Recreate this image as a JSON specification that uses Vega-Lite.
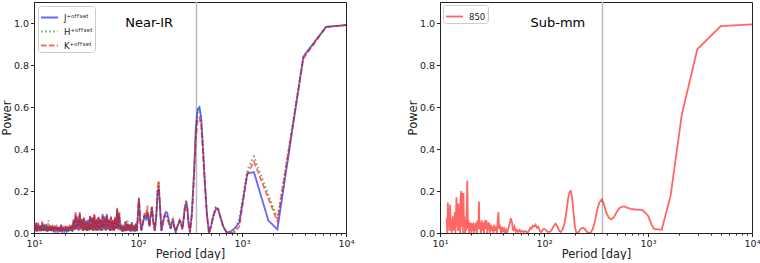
{
"$schema": "https://vega.github.io/schema/vega-lite/v6.json",
"padding": {"left": 0, "top": 0, "right": 0, "bottom": 0},
"spacing": 51,
"config": {
  "font": "DejaVu Sans",
  "view": {"stroke": "#222222", "strokeWidth": 1},
  "axis": {"labelFont": "DejaVu Sans", "labelFontSize": 9.5, "labelColor": "#222222", "titleFont": "DejaVu Sans", "titleFontSize": 11.5, "titleFontWeight": "normal", "titleColor": "#222222", "tickColor": "#222222", "domainColor": "#222222", "grid": false, "tickSize": 3.5, "labelPadding": 2},
  "legend": {"labelFont": "DejaVu Sans", "labelFontSize": 8.5, "labelColor": "#222222"}
},
"resolve": {"scale": {"color": "independent", "strokeDash": "independent"}, "legend": {"color": "independent", "strokeDash": "independent"}},
"hconcat": [
{
  "width": 312, "height": 231,
  "resolve": {"axis": {"x": "independent"}},
  "layer": [
    {
      "data": {"values": [{"p": 365}]},
      "mark": {"type": "rule", "color": "#bbbbbb", "strokeWidth": 1.5},
      "encoding": {
        "x": {"field": "p", "type": "quantitative", "scale": {"type": "log", "domain": [10, 10000]},
              "axis": {"orient": "bottom", "values": [20,30,40,50,60,70,80,90,200,300,400,500,600,700,800,900,2000,3000,4000,5000,6000,7000,8000,9000], "labels": false, "tickSize": 2, "domain": false, "title": null}}
      }
    },
    {
      "data": {"values": [
        {"p":10,"J":0.045,"H":0.04,"K":0.05},
        {"p":10.23,"J":0.01,"H":0.012,"K":0.008},
        {"p":10.47,"J":0.05,"H":0.04,"K":0.045},
        {"p":10.72,"J":0.005,"H":0.01,"K":0.01},
        {"p":10.96,"J":0.04,"H":0.045,"K":0.05},
        {"p":11.22,"J":0.012,"H":0.008,"K":0.01},
        {"p":11.48,"J":0.035,"H":0.04,"K":0.03},
        {"p":11.75,"J":0.008,"H":0.01,"K":0.015},
        {"p":12.02,"J":0.045,"H":0.05,"K":0.055},
        {"p":12.3,"J":0.01,"H":0.005,"K":0.01},
        {"p":12.59,"J":0.03,"H":0.035,"K":0.04},
        {"p":12.88,"J":0.012,"H":0.01,"K":0.008},
        {"p":13.18,"J":0.04,"H":0.045,"K":0.035},
        {"p":13.49,"J":0.005,"H":0.008,"K":0.01},
        {"p":13.8,"J":0.03,"H":0.06,"K":0.035},
        {"p":14.13,"J":0.01,"H":0.012,"K":0.008},
        {"p":14.45,"J":0.035,"H":0.03,"K":0.04},
        {"p":14.79,"J":0.008,"H":0.01,"K":0.012},
        {"p":15.14,"J":0.03,"H":0.035,"K":0.03},
        {"p":15.49,"J":0.01,"H":0.005,"K":0.01},
        {"p":15.85,"J":0.025,"H":0.03,"K":0.035},
        {"p":16.22,"J":0.008,"H":0.01,"K":0.01},
        {"p":16.6,"J":0.03,"H":0.04,"K":0.03},
        {"p":16.98,"J":0.01,"H":0.012,"K":0.008},
        {"p":17.38,"J":0.028,"H":0.03,"K":0.035},
        {"p":17.78,"J":0.005,"H":0.008,"K":0.01},
        {"p":18.2,"J":0.035,"H":0.045,"K":0.03},
        {"p":18.62,"J":0.01,"H":0.01,"K":0.012},
        {"p":19.05,"J":0.025,"H":0.03,"K":0.028},
        {"p":19.5,"J":0.008,"H":0.01,"K":0.01},
        {"p":19.95,"J":0.03,"H":0.025,"K":0.035},
        {"p":20.42,"J":0.01,"H":0.012,"K":0.008},
        {"p":20.89,"J":0.028,"H":0.03,"K":0.025},
        {"p":21.38,"J":0.005,"H":0.008,"K":0.01},
        {"p":21.88,"J":0.03,"H":0.035,"K":0.03},
        {"p":22.39,"J":0.01,"H":0.01,"K":0.012},
        {"p":22.91,"J":0.035,"H":0.03,"K":0.04},
        {"p":23.44,"J":0.008,"H":0.01,"K":0.005},
        {"p":23.99,"J":0.06,"H":0.055,"K":0.065},
        {"p":24.55,"J":0.015,"H":0.01,"K":0.02},
        {"p":25.12,"J":0.09,"H":0.085,"K":0.1},
        {"p":25.7,"J":0.02,"H":0.025,"K":0.015},
        {"p":26.3,"J":0.07,"H":0.065,"K":0.08},
        {"p":26.92,"J":0.015,"H":0.02,"K":0.01},
        {"p":27.54,"J":0.09,"H":0.095,"K":0.1},
        {"p":28.18,"J":0.02,"H":0.015,"K":0.02},
        {"p":28.84,"J":0.06,"H":0.07,"K":0.065},
        {"p":29.51,"J":0.01,"H":0.015,"K":0.01},
        {"p":30.2,"J":0.07,"H":0.06,"K":0.075},
        {"p":30.9,"J":0.015,"H":0.02,"K":0.01},
        {"p":31.62,"J":0.055,"H":0.05,"K":0.06},
        {"p":32.36,"J":0.01,"H":0.015,"K":0.01},
        {"p":33.11,"J":0.06,"H":0.065,"K":0.055},
        {"p":33.88,"J":0.012,"H":0.01,"K":0.015},
        {"p":34.67,"J":0.08,"H":0.075,"K":0.085},
        {"p":35.48,"J":0.015,"H":0.02,"K":0.01},
        {"p":36.31,"J":0.07,"H":0.065,"K":0.075},
        {"p":37.15,"J":0.01,"H":0.01,"K":0.015},
        {"p":38.02,"J":0.085,"H":0.08,"K":0.09},
        {"p":38.9,"J":0.015,"H":0.02,"K":0.01},
        {"p":39.81,"J":0.06,"H":0.07,"K":0.065},
        {"p":40.74,"J":0.01,"H":0.015,"K":0.012},
        {"p":41.69,"J":0.075,"H":0.07,"K":0.08},
        {"p":42.66,"J":0.015,"H":0.01,"K":0.02},
        {"p":43.65,"J":0.065,"H":0.06,"K":0.07},
        {"p":44.67,"J":0.01,"H":0.015,"K":0.01},
        {"p":45.71,"J":0.09,"H":0.085,"K":0.08},
        {"p":46.77,"J":0.02,"H":0.015,"K":0.02},
        {"p":47.86,"J":0.07,"H":0.075,"K":0.08},
        {"p":48.98,"J":0.01,"H":0.01,"K":0.015},
        {"p":50.12,"J":0.09,"H":0.085,"K":0.08},
        {"p":51.29,"J":0.02,"H":0.015,"K":0.02},
        {"p":52.48,"J":0.06,"H":0.065,"K":0.07},
        {"p":53.7,"J":0.01,"H":0.015,"K":0.01},
        {"p":54.95,"J":0.075,"H":0.07,"K":0.08},
        {"p":56.23,"J":0.015,"H":0.02,"K":0.01},
        {"p":57.54,"J":0.06,"H":0.055,"K":0.065},
        {"p":58.88,"J":0.01,"H":0.015,"K":0.012},
        {"p":60.26,"J":0.07,"H":0.075,"K":0.08},
        {"p":61.66,"J":0.02,"H":0.015,"K":0.02},
        {"p":63.1,"J":0.11,"H":0.115,"K":0.12},
        {"p":64.57,"J":0.02,"H":0.025,"K":0.015},
        {"p":66.07,"J":0.09,"H":0.095,"K":0.1},
        {"p":67.61,"J":0.015,"H":0.01,"K":0.02},
        {"p":69.18,"J":0.04,"H":0.045,"K":0.035},
        {"p":70.79,"J":0.005,"H":0.01,"K":0.008},
        {"p":72.44,"J":0.03,"H":0.035,"K":0.04},
        {"p":74.13,"J":0.01,"H":0.005,"K":0.01},
        {"p":75.86,"J":0.05,"H":0.06,"K":0.055},
        {"p":77.62,"J":0.01,"H":0.015,"K":0.008},
        {"p":79.43,"J":0.045,"H":0.065,"K":0.05},
        {"p":81.28,"J":0.01,"H":0.015,"K":0.01},
        {"p":83.18,"J":0.04,"H":0.035,"K":0.045},
        {"p":85.11,"J":0.005,"H":0.01,"K":0.008},
        {"p":87.1,"J":0.05,"H":0.055,"K":0.045},
        {"p":89.13,"J":0.01,"H":0.008,"K":0.012},
        {"p":91.2,"J":0.035,"H":0.04,"K":0.03},
        {"p":93.33,"J":0.005,"H":0.01,"K":0.008},
        {"p":95.5,"J":0.04,"H":0.045,"K":0.05},
        {"p":97.72,"J":0.01,"H":0.012,"K":0.008},
        {"p":102,"J":0.16,"H":0.165,"K":0.17},
        {"p":105,"J":0.06,"H":0.07,"K":0.065},
        {"p":107.6,"J":0.01,"H":0.012,"K":0.015},
        {"p":112,"J":0.05,"H":0.06,"K":0.055},
        {"p":116,"J":0.085,"H":0.09,"K":0.1},
        {"p":120,"J":0.06,"H":0.07,"K":0.09},
        {"p":123,"J":0.1,"H":0.11,"K":0.13},
        {"p":126,"J":0.07,"H":0.065,"K":0.06},
        {"p":129,"J":0.03,"H":0.035,"K":0.03},
        {"p":132,"J":0.08,"H":0.085,"K":0.075},
        {"p":136,"J":0.12,"H":0.13,"K":0.125},
        {"p":140,"J":0.06,"H":0.07,"K":0.05},
        {"p":145,"J":0.01,"H":0.015,"K":0.01},
        {"p":150,"J":0.08,"H":0.085,"K":0.09},
        {"p":154,"J":0.18,"H":0.2,"K":0.21},
        {"p":158,"J":0.22,"H":0.24,"K":0.25},
        {"p":162,"J":0.14,"H":0.15,"K":0.15},
        {"p":168,"J":0.01,"H":0.015,"K":0.01},
        {"p":174,"J":0.05,"H":0.055,"K":0.06},
        {"p":181,"J":0.09,"H":0.08,"K":0.085},
        {"p":186,"J":0.1,"H":0.085,"K":0.08},
        {"p":191,"J":0.095,"H":0.08,"K":0.07},
        {"p":198,"J":0.06,"H":0.05,"K":0.045},
        {"p":206,"J":0.02,"H":0.025,"K":0.02},
        {"p":211,"J":0.04,"H":0.06,"K":0.05},
        {"p":217,"J":0.06,"H":0.07,"K":0.065},
        {"p":223,"J":0.03,"H":0.035,"K":0.03},
        {"p":230,"J":0.005,"H":0.0,"K":0.01},
        {"p":240,"J":0.03,"H":0.035,"K":0.04},
        {"p":252,"J":0.06,"H":0.065,"K":0.06},
        {"p":260,"J":0.04,"H":0.045,"K":0.05},
        {"p":267,"J":0.02,"H":0.025,"K":0.015},
        {"p":275,"J":0.07,"H":0.08,"K":0.06},
        {"p":283,"J":0.12,"H":0.14,"K":0.13},
        {"p":291,"J":0.145,"H":0.16,"K":0.15},
        {"p":298,"J":0.12,"H":0.13,"K":0.11},
        {"p":306,"J":0.05,"H":0.06,"K":0.04},
        {"p":316,"J":0.005,"H":0.01,"K":0.0},
        {"p":330,"J":0.1,"H":0.1,"K":0.08},
        {"p":345,"J":0.28,"H":0.28,"K":0.25},
        {"p":360,"J":0.5,"H":0.5,"K":0.45},
        {"p":375,"J":0.59,"H":0.585,"K":0.54},
        {"p":390,"J":0.6,"H":0.59,"K":0.55},
        {"p":405,"J":0.55,"H":0.54,"K":0.51},
        {"p":420,"J":0.42,"H":0.42,"K":0.39},
        {"p":440,"J":0.24,"H":0.24,"K":0.22},
        {"p":460,"J":0.09,"H":0.09,"K":0.08},
        {"p":482,"J":0.0,"H":0.0,"K":0.0},
        {"p":505,"J":0.035,"H":0.035,"K":0.035},
        {"p":530,"J":0.08,"H":0.085,"K":0.08},
        {"p":560,"J":0.115,"H":0.125,"K":0.12},
        {"p":590,"J":0.11,"H":0.12,"K":0.115},
        {"p":620,"J":0.075,"H":0.08,"K":0.075},
        {"p":660,"J":0.03,"H":0.03,"K":0.03},
        {"p":713,"J":0.003,"H":0.005,"K":0.002},
        {"p":780,"J":0.008,"H":0.004,"K":0.0},
        {"p":850,"J":0.022,"H":0.01,"K":0.005},
        {"p":942,"J":0.05,"H":0.07,"K":0.03},
        {"p":1125,"J":0.283,"H":0.3,"K":0.28},
        {"p":1303,"J":0.29,"H":0.365,"K":0.34},
        {"p":1790,"J":0.06,"H":null,"K":null},
        {"p":2189,"J":0.017,"H":0.07,"K":0.055},
        {"p":3890,"J":0.84,"H":0.84,"K":0.83},
        {"p":6430,"J":0.982,"H":0.982,"K":0.98},
        {"p":10000,"J":0.99,"H":0.99,"K":0.99}
      ]},
      "transform": [{"fold": ["J", "H", "K"], "as": ["band", "power"]}, {"filter": "isValid(datum.power)"}],
      "mark": {"type": "line", "strokeWidth": 1.8, "opacity": 0.6, "clip": true},
      "encoding": {
        "x": {"field": "p", "type": "quantitative", "scale": {"type": "log", "domain": [10, 10000]},
              "axis": {"orient": "bottom", "values": [10, 100, 1000, 10000], "labelExpr": "datum.value == 10 ? '10¹' : datum.value == 100 ? '10²' : datum.value == 1000 ? '10³' : '10⁴'", "title": "Period [day]", "titlePadding": 0, "labelFlush": false}},
        "y": {"field": "power", "type": "quantitative", "scale": {"domain": [0, 1.1]},
              "axis": {"values": [0, 0.2, 0.4, 0.6, 0.8, 1.0], "format": ".1f", "title": "Power", "titlePadding": 1}},
        "color": {"field": "band", "type": "nominal", "scale": {"domain": ["J", "H", "K"], "range": ["#0000ff", "#008000", "#ff0000"]},
                  "legend": {"orient": "top-left", "offset": 4, "title": null, "symbolType": "stroke", "symbolSize": 289, "symbolStrokeWidth": 1.8, "symbolOpacity": 0.6, "labelExpr": "datum.label + '⁺ᵒᶠᶠˢᵉᵗ'", "strokeColor": "#cccccc", "fillColor": "white", "padding": 2, "cornerRadius": 3, "rowPadding": -5, "labelOffset": 5}},
        "strokeDash": {"field": "band", "type": "nominal", "scale": {"domain": ["J", "H", "K"], "range": [[1, 0], [1.5, 2.6], [5.5, 2.4]]},
                  "legend": {"orient": "top-left", "offset": 4, "title": null, "symbolType": "stroke", "symbolSize": 289, "symbolStrokeWidth": 1.8, "symbolOpacity": 0.6, "labelExpr": "datum.label + '⁺ᵒᶠᶠˢᵉᵗ'", "strokeColor": "#cccccc", "fillColor": "white", "padding": 2, "cornerRadius": 3, "rowPadding": -5, "labelOffset": 5}}
      }
    },
    {
      "data": {"values": [{"p": 128, "power": 1.0, "label": "Near-IR"}]},
      "mark": {"type": "text", "fontSize": 13, "font": "DejaVu Sans", "color": "#000000"},
      "encoding": {
        "x": {"field": "p", "type": "quantitative", "scale": {"type": "log", "domain": [10, 10000]}, "axis": null},
        "y": {"field": "power", "type": "quantitative", "scale": {"domain": [0, 1.1]}},
        "text": {"field": "label"}
      }
    }
  ]
},
{
  "width": 312, "height": 231,
  "resolve": {"axis": {"x": "independent"}},
  "layer": [
    {
      "data": {"values": [{"p": 365}]},
      "mark": {"type": "rule", "color": "#bbbbbb", "strokeWidth": 1.5},
      "encoding": {
        "x": {"field": "p", "type": "quantitative", "scale": {"type": "log", "domain": [10, 10000]},
              "axis": {"orient": "bottom", "values": [20,30,40,50,60,70,80,90,200,300,400,500,600,700,800,900,2000,3000,4000,5000,6000,7000,8000,9000], "labels": false, "tickSize": 2, "domain": false, "title": null}}
      }
    },
    {
      "data": {"values": [
        {"p":11.6,"power":0.07},{"p":11.75,"power":0.0},{"p":11.9,"power":0.145},{"p":12.05,"power":0.03},
        {"p":12.2,"power":0.12},{"p":12.35,"power":0.01},{"p":12.5,"power":0.135},{"p":12.65,"power":0.02},
        {"p":12.8,"power":0.06},{"p":12.95,"power":0.0},{"p":13.1,"power":0.05},{"p":13.25,"power":0.08},
        {"p":13.4,"power":0.01},{"p":13.55,"power":0.07},{"p":13.7,"power":0.02},{"p":13.9,"power":0.1},
        {"p":14.05,"power":0.0},{"p":14.2,"power":0.06},{"p":14.4,"power":0.17},{"p":14.6,"power":0.03},
        {"p":14.75,"power":0.12},{"p":14.9,"power":0.01},{"p":15.05,"power":0.14},{"p":15.2,"power":0.02},
        {"p":15.4,"power":0.09},{"p":15.6,"power":0.0},{"p":15.8,"power":0.17},{"p":16.0,"power":0.2},
        {"p":16.2,"power":0.03},{"p":16.4,"power":0.19},{"p":16.6,"power":0.0},{"p":16.8,"power":0.19},
        {"p":17.0,"power":0.04},{"p":17.2,"power":0.08},{"p":17.4,"power":0.0},{"p":17.6,"power":0.06},
        {"p":17.85,"power":0.01},{"p":18.05,"power":0.1},{"p":18.3,"power":0.25},{"p":18.55,"power":0.02},
        {"p":18.8,"power":0.06},{"p":19.05,"power":0.0},{"p":19.3,"power":0.05},{"p":19.55,"power":0.01},
        {"p":19.8,"power":0.05},{"p":20.1,"power":0.0},{"p":20.4,"power":0.045},{"p":20.7,"power":0.01},
        {"p":21.0,"power":0.05},{"p":21.3,"power":0.0},{"p":21.6,"power":0.04},{"p":21.9,"power":0.01},
        {"p":22.2,"power":0.05},{"p":22.6,"power":0.0},{"p":23.0,"power":0.06},{"p":23.4,"power":0.02},
        {"p":23.7,"power":0.15},{"p":24.0,"power":0.02},{"p":24.4,"power":0.05},{"p":24.8,"power":0.0},
        {"p":25.2,"power":0.06},{"p":25.6,"power":0.01},{"p":26.0,"power":0.05},{"p":26.5,"power":0.0},
        {"p":27.0,"power":0.06},{"p":27.5,"power":0.02},{"p":28.0,"power":0.06},{"p":28.5,"power":0.0},
        {"p":29.0,"power":0.04},{"p":29.6,"power":0.05},{"p":30.2,"power":0.0},{"p":30.8,"power":0.04},
        {"p":31.4,"power":0.01},{"p":32.0,"power":0.03},{"p":32.6,"power":0.0},{"p":33.2,"power":0.04},
        {"p":33.8,"power":0.01},{"p":34.5,"power":0.03},{"p":35.2,"power":0.0},{"p":35.8,"power":0.05},
        {"p":36.4,"power":0.1},{"p":37.0,"power":0.02},{"p":37.8,"power":0.03},{"p":38.6,"power":0.0},
        {"p":39.5,"power":0.03},{"p":40.4,"power":0.01},{"p":41.3,"power":0.02},{"p":42.2,"power":0.0},
        {"p":43.2,"power":0.015},{"p":44.3,"power":0.0},{"p":45.4,"power":0.02},{"p":46.6,"power":0.04},
        {"p":47.9,"power":0.07},{"p":49.2,"power":0.05},{"p":50.5,"power":0.01},{"p":52.0,"power":0.03},
        {"p":53.5,"power":0.005},{"p":55.0,"power":0.015},{"p":56.6,"power":0.005},{"p":58.3,"power":0.015},
        {"p":60.0,"power":0.005},{"p":62.0,"power":0.01},{"p":64.0,"power":0.005},{"p":66.5,"power":0.01},
        {"p":69.0,"power":0.0},{"p":71.5,"power":0.01},{"p":74.0,"power":0.025},{"p":76.0,"power":0.02},
        {"p":78.0,"power":0.035},{"p":80.5,"power":0.03},{"p":83.0,"power":0.04},{"p":85.5,"power":0.025},
        {"p":88.0,"power":0.03},{"p":91.0,"power":0.01},{"p":94.0,"power":0.005},{"p":97.0,"power":0.015},
        {"p":100,"power":0.02},{"p":104,"power":0.015},{"p":108,"power":0.005},{"p":113,"power":0.005},
        {"p":118,"power":0.012},{"p":123,"power":0.03},{"p":129,"power":0.045},{"p":135,"power":0.03},
        {"p":140,"power":0.01},{"p":145,"power":0.005},{"p":152,"power":0.02},{"p":158,"power":0.05},
        {"p":164,"power":0.1},{"p":170,"power":0.16},{"p":176,"power":0.195},{"p":181,"power":0.2},
        {"p":186,"power":0.17},{"p":192,"power":0.1},{"p":198,"power":0.03},{"p":205,"power":0.0},
        {"p":215,"power":0.005},{"p":226,"power":0.02},{"p":237,"power":0.025},{"p":248,"power":0.018},
        {"p":260,"power":0.005},{"p":271,"power":0.0},{"p":281,"power":0.002},{"p":295,"power":0.02},
        {"p":310,"power":0.06},{"p":325,"power":0.11},{"p":340,"power":0.145},{"p":359,"power":0.16},
        {"p":375,"power":0.14},{"p":395,"power":0.1},{"p":420,"power":0.072},{"p":444,"power":0.065},
        {"p":470,"power":0.075},{"p":500,"power":0.1},{"p":530,"power":0.118},{"p":560,"power":0.125},
        {"p":588,"power":0.127},{"p":620,"power":0.122},{"p":680,"power":0.115},{"p":760,"power":0.112},
        {"p":881,"power":0.11},{"p":950,"power":0.095},{"p":1006,"power":0.08},{"p":1080,"power":0.04},
        {"p":1143,"power":0.02},{"p":1355,"power":0.015},{"p":1653,"power":0.18},{"p":2108,"power":0.56},
        {"p":2978,"power":0.875},{"p":5000,"power":0.985},{"p":10000,"power":0.993}
      ]},
      "mark": {"type": "line", "strokeWidth": 1.8, "opacity": 0.6, "clip": true},
      "encoding": {
        "x": {"field": "p", "type": "quantitative", "scale": {"type": "log", "domain": [10, 10000]},
              "axis": {"orient": "bottom", "values": [10, 100, 1000, 10000], "labelExpr": "datum.value == 10 ? '10¹' : datum.value == 100 ? '10²' : datum.value == 1000 ? '10³' : '10⁴'", "title": "Period [day]", "titlePadding": 0, "labelFlush": false}},
        "y": {"field": "power", "type": "quantitative", "scale": {"domain": [0, 1.1]},
              "axis": {"values": [0, 0.2, 0.4, 0.6, 0.8, 1.0], "format": ".1f", "title": "Power", "titlePadding": 1}},
        "color": {"datum": "850", "type": "nominal", "scale": {"range": ["#ff0000"]},
                  "legend": {"orient": "top-left", "offset": 3, "title": null, "symbolType": "stroke", "symbolSize": 289, "symbolStrokeWidth": 1.8, "symbolOpacity": 0.6, "strokeColor": "#cccccc", "fillColor": "white", "padding": 2, "cornerRadius": 3, "labelOffset": 5}}
      }
    },
    {
      "data": {"values": [{"p": 136, "power": 1.0, "label": "Sub-mm"}]},
      "mark": {"type": "text", "fontSize": 13, "font": "DejaVu Sans", "color": "#000000"},
      "encoding": {
        "x": {"field": "p", "type": "quantitative", "scale": {"type": "log", "domain": [10, 10000]}, "axis": null},
        "y": {"field": "power", "type": "quantitative", "scale": {"domain": [0, 1.1]}},
        "text": {"field": "label"}
      }
    }
  ]
}
]
}
